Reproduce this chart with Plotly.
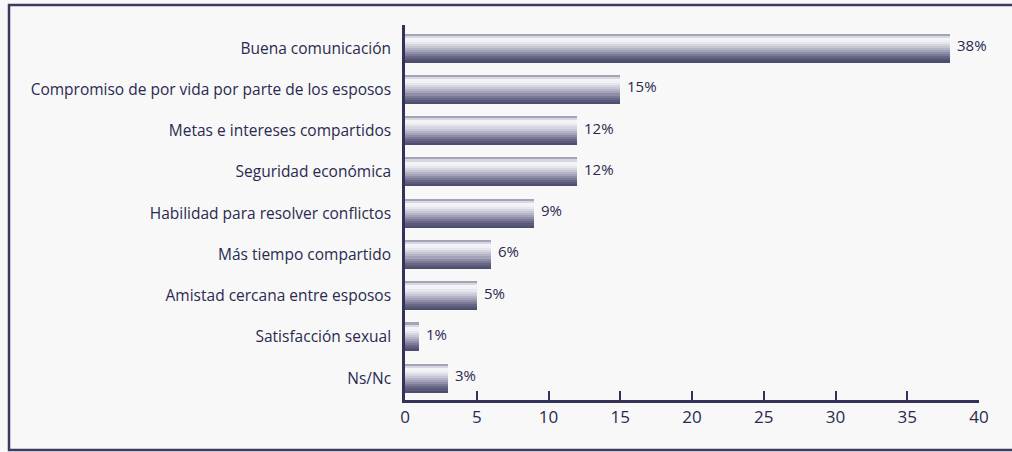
import plotly.graph_objects as go

categories = ["Buena comunicación",
              "Compromiso de por vida por parte de los esposos",
              "Metas e intereses compartidos",
              "Seguridad económica",
              "Habilidad para resolver conflictos",
              "Más tiempo compartido",
              "Amistad cercana entre esposos",
              "Satisfacción sexual",
              "Ns/Nc"]
values = [38, 15, 12, 12, 9, 6, 5, 1, 3]
value_labels = ["38%", "15%", "12%", "12%", "9%", "6%", "5%", "1%", "3%"]
x_ticks = [0, 5, 10, 15, 20, 25, 30, 35, 40]

# vertical gradient of each bar, top -> bottom
grad = ["#a4a4b8", "#d8d8e2", "#f4f4f8", "#f2f2f6", "#e6e6ee", "#d6d6e0",
        "#c6c6d4", "#b4b4c6", "#a2a2b8", "#8e8ea8", "#7a7a96", "#686886",
        "#5a5a7a", "#4e4e6e"]

BAR_W = 0.70
n = len(grad)
strip = BAR_W / n

fig = go.Figure()
for i, c in enumerate(grad):
    fig.add_trace(go.Bar(
        x=values, y=categories, orientation="h",
        width=[strip * 1.06] * len(values),
        offset=-BAR_W / 2 + i * strip,
        marker=dict(color=c, line=dict(width=0)),
        hoverinfo="skip", showlegend=False,
    ))

for v, cat, lab in zip(values, categories, value_labels):
    fig.add_annotation(x=v, y=cat, text=lab, showarrow=False,
                       xanchor="left", xshift=5, yshift=3,
                       font=dict(family="Open Sans", size=15, color="#2a2a50"))

W, H = 1012, 452
L, R, T, B = 405, 33, 25, 52
pw, ph = W - L - R, H - T - B

def px_x(p):
    return (p - L) / pw

def px_y(p):
    return (H - B - p) / ph

fig.add_shape(type="rect", xref="paper", yref="paper",
              x0=px_x(9), x1=px_x(1020), y0=px_y(450), y1=px_y(5),
              line=dict(color="#3a3a62", width=2.5), fillcolor="rgba(0,0,0,0)",
              layer="below")

fig.update_layout(
    width=W, height=H,
    margin=dict(l=L, r=R, t=T, b=B),
    paper_bgcolor="#f8f8f8", plot_bgcolor="#f8f8f8",
    barmode="overlay", bargap=0,
    xaxis=dict(range=[0, 40], tickvals=x_ticks, ticks="inside", ticklen=9,
               tickwidth=2, tickcolor="#33335a", showgrid=False, zeroline=False,
               showline=True, linecolor="#33335a", linewidth=2.5,
               tickfont=dict(family="Open Sans", size=17, color="#2a2a50"),
               fixedrange=True),
    yaxis=dict(categoryorder="array", categoryarray=categories,
               range=[8.53, -0.56], showgrid=False, zeroline=False,
               showline=True, linecolor="#33335a", linewidth=2.5,
               ticks="", ticksuffix="  ",
               tickfont=dict(family="Open Sans", size=15.5, color="#2a2a50"),
               fixedrange=True),
)

fig.write_html("out.html", config={"displayModeBar": False},
               post_script="document.body.style.margin='0';document.body.style.background='#f8f8f8';")
